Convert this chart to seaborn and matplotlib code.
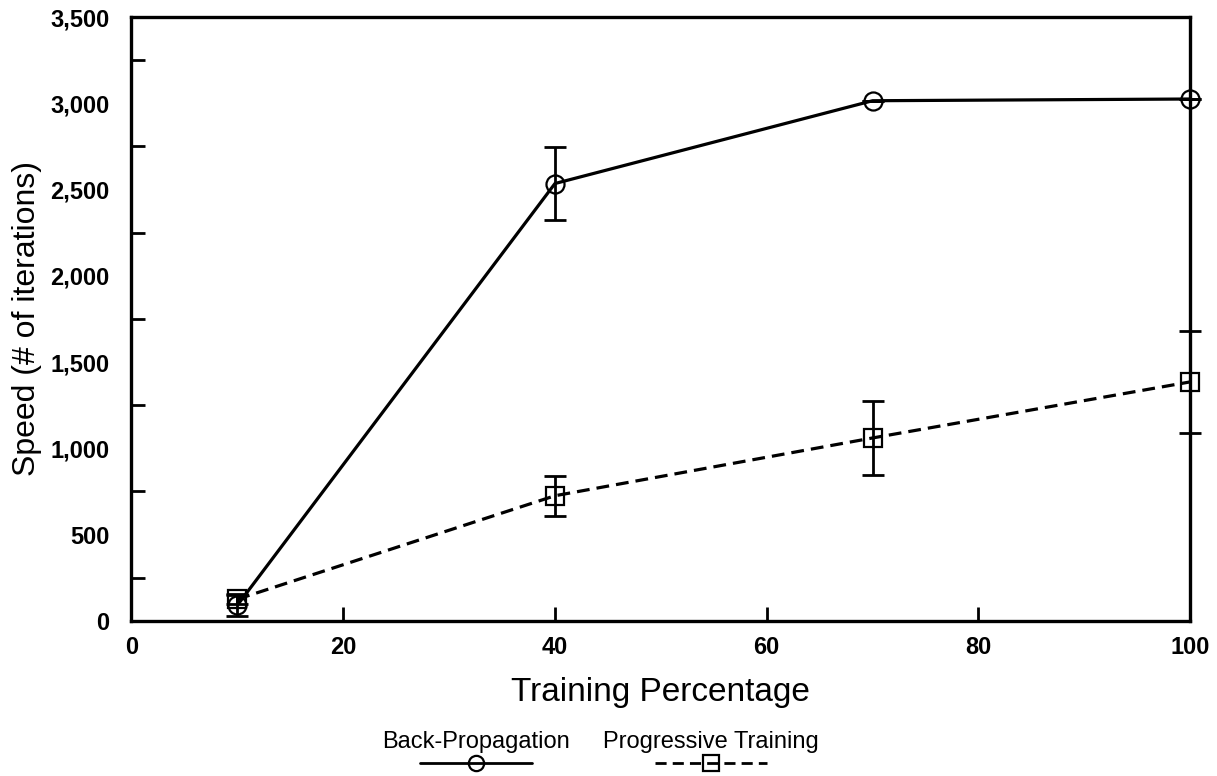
import numpy as np
import pandas as pd
import matplotlib
matplotlib.use("Agg")
import matplotlib.pyplot as plt
from matplotlib.lines import Line2D
from matplotlib.ticker import FixedLocator, FuncFormatter
import seaborn as sns

# ---- data ----
training_pct = [10, 40, 70, 100]
bp_speed = [90, 2535, 3015, 3025]
bp_err = [60, 210, 0, 0]
pt_speed = [125, 725, 1060, 1385]
pt_err = [30, 115, 215, 295]
series_names = ["Back-Propagation", "Progressive Training"]

sns.set_theme(style="white")
plt.rcParams['font.family'] = ['Liberation Sans', 'DejaVu Sans']
plt.rcParams['text.color'] = 'black'
plt.rcParams['axes.labelcolor'] = 'black'
plt.rcParams['xtick.color'] = 'black'
plt.rcParams['ytick.color'] = 'black'

df = pd.DataFrame({
    "pct": training_pct * 2,
    "speed": bp_speed + pt_speed,
    "series": [series_names[0]] * 4 + [series_names[1]] * 4,
})

fig = plt.figure(figsize=(12.17, 7.76), dpi=100)
ax = fig.add_axes([0.108, 0.200, 0.870, 0.778])

lw = 2.3
sns.lineplot(data=df, x="pct", y="speed", hue="series", style="series",
             palette=["black", "black"], dashes=[(1, 0), (4, 2.2)],
             markers=["o", "s"], markersize=13, markerfacecolor="none",
             markeredgecolor="black", markeredgewidth=1.6,
             linewidth=lw, ax=ax, legend=False, zorder=3, clip_on=False)

for y, e in [(bp_speed, bp_err), (pt_speed, pt_err)]:
    eb = ax.errorbar(training_pct, y, yerr=e, fmt="none", ecolor="black",
                     elinewidth=2.0, capsize=8, capthick=2.0, zorder=2)
    for art in eb.lines[1] + eb.lines[2]:
        art.set_clip_on(False)

ax.set_xlim(0, 100)
ax.set_ylim(0, 3500)
ax.set_xticks([0, 20, 40, 60, 80, 100])
ax.set_yticks(np.arange(0, 3501, 500))
ax.yaxis.set_minor_locator(FixedLocator(np.arange(250, 3500, 500)))
ax.yaxis.set_major_formatter(FuncFormatter(lambda v, p: f"{int(v):,}"))

ax.tick_params(axis="x", which="major", direction="in", length=10, width=2,
               labelsize=17, pad=11, bottom=True, top=False)
ax.tick_params(axis="y", which="major", length=0, labelsize=17, pad=16, left=True)
ax.tick_params(axis="y", which="minor", direction="in", length=10, width=2,
               left=True, right=False)
for lab in ax.get_xticklabels() + ax.get_yticklabels():
    lab.set_fontweight("bold")

for s in ax.spines.values():
    s.set_visible(True)
    s.set_linewidth(2.4)
    s.set_color("black")

ax.set_xlabel("Training Percentage", fontsize=24, labelpad=13)
ax.set_ylabel("Speed (# of iterations)", fontsize=23, labelpad=6)

# ---- legend (text above handles) ----
leg_items = [
    (series_names[0], "-", "o", 0.391),
    (series_names[1], (0, (4, 2.2)), "s", 0.584),
]
for name, ls, mk, cx in leg_items:
    fig.text(cx, 0.029, name, ha="center", va="bottom", fontsize=17)
    fig.add_artist(Line2D([cx - 0.046, cx + 0.046], [0.017, 0.017],
                          transform=fig.transFigure, color="black",
                          linestyle=ls, linewidth=2.0))
    fig.add_artist(Line2D([cx], [0.017], transform=fig.transFigure,
                          marker=mk, markersize=11, markerfacecolor="none",
                          markeredgecolor="black", markeredgewidth=1.6,
                          linestyle="none"))

fig.savefig("out.png", dpi=100, facecolor="white")
